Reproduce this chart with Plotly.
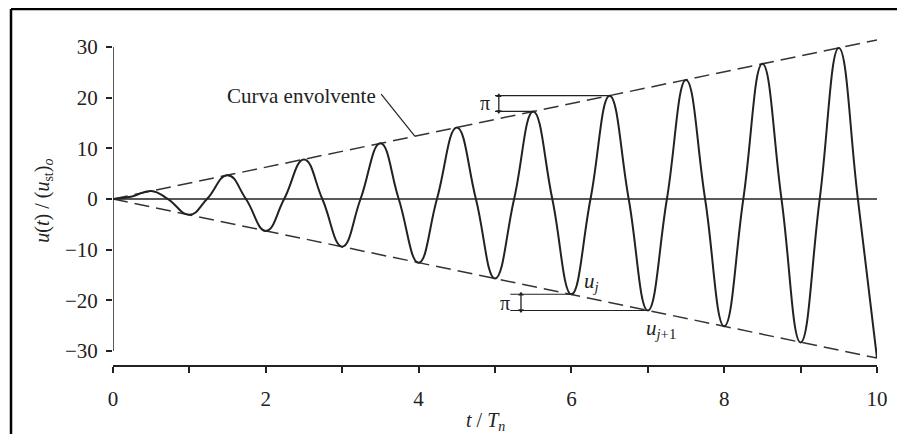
import plotly.graph_objects as go

# ---- data ----
peak_t = [0.5, 1.0, 1.5, 2.0, 2.5, 3.0, 3.5, 4.0, 4.5, 5.0, 5.5, 6.0, 6.5, 7.0, 7.5, 8.0, 8.5, 9.0, 9.5, 10.0]
peak_u = [1.6, -3.1, 4.7, -6.3, 7.8, -9.4, 11.0, -12.6, 14.1, -15.7, 17.3, -18.8, 20.4, -22.0, 23.5, -25.1, 26.7, -28.3, 29.8, -31.4]
zero_t = [0.72, 1.23, 1.74, 2.24, 2.74, 3.24, 3.74, 4.24, 4.75, 5.25, 5.75, 6.25, 6.75, 7.25, 7.75, 8.25, 8.75, 9.25, 9.75]
start_t = [0.0, 0.25]
start_u = [0.0, 0.5]

env_t = [0, 10]
env_upper = [0, 31.4]
env_lower = [0, -31.4]

x_ticks = [0, 2, 4, 6, 8, 10]
x_labels = ["0", "2", "4", "6", "8", "10"]
x_minor = [1, 3, 5, 7, 9]
y_ticks = [-30, -20, -10, 0, 10, 20, 30]
y_labels = ["\u221230", "\u221220", "\u221210", "0", "10", "20", "30"]

# build the curve points (peaks and zero crossings interleaved)
curve_t = list(start_t)
curve_u = list(start_u)
for i, (pt, pu) in enumerate(zip(peak_t, peak_u)):
    curve_t.append(pt)
    curve_u.append(pu)
    if i < len(zero_t):
        curve_t.append(zero_t[i])
        curve_u.append(0.0)

FONT = "Liberation Serif"
INK = "#222222"

fig = go.Figure()

fig.add_trace(go.Scatter(x=env_t, y=env_upper, mode="lines",
                         line=dict(color="#333", width=1.5, dash="15px,7px"),
                         hoverinfo="skip", showlegend=False))
fig.add_trace(go.Scatter(x=env_t, y=env_lower, mode="lines",
                         line=dict(color="#333", width=1.5, dash="15px,7px"),
                         hoverinfo="skip", showlegend=False))
fig.add_trace(go.Scatter(x=[0, 10], y=[0, 0], mode="lines",
                         line=dict(color=INK, width=1.5),
                         hoverinfo="skip", showlegend=False))
fig.add_trace(go.Scatter(x=curve_t, y=curve_u, mode="lines",
                         line=dict(color=INK, width=2, shape="spline", smoothing=1.3),
                         showlegend=False))

shapes = []
# y axis line from -30 to 30
shapes.append(dict(type="line", xref="x", yref="y", x0=0, x1=0, y0=-30, y1=30,
                   line=dict(color=INK, width=1.5)))
# outer frame (top and left)
shapes.append(dict(type="line", xref="paper", yref="paper", x0=-0.1335, x1=1.05,
                   y0=1.0854, y1=1.0854, line=dict(color="black", width=2.5)))
shapes.append(dict(type="line", xref="paper", yref="paper", x0=-0.1335, x1=-0.1335,
                   y0=-0.25, y1=1.0854, line=dict(color="black", width=2.5)))
# envelope leader line
shapes.append(dict(type="line", xref="x", yref="y", x0=3.51, y0=20.7, x1=3.95, y1=12.4,
                   line=dict(color=INK, width=1.2)))
# pi brackets
u_a, u_b = peak_u[10], peak_u[12]
u_c, u_d = peak_u[11], peak_u[13]
for (x0, x1, yy) in [(5.0, peak_t[10], u_a), (5.0, peak_t[12], u_b),
                     (5.2, peak_t[11], u_c), (5.2, peak_t[13], u_d)]:
    shapes.append(dict(type="line", xref="x", yref="y", x0=x0, x1=x1, y0=yy, y1=yy,
                       line=dict(color=INK, width=1.2)))
for (xv, y0, y1) in [(5.05, u_a, u_b), (5.34, u_c, u_d)]:
    shapes.append(dict(type="line", xref="x", yref="y", x0=xv, x1=xv, y0=y0, y1=y1,
                       line=dict(color=INK, width=1.3)))

# small arrowheads at bracket ends
fig.add_trace(go.Scatter(x=[5.05, 5.05, 5.34, 5.34],
                         y=[max(u_a, u_b), min(u_a, u_b), max(u_c, u_d), min(u_c, u_d)],
                         mode="markers",
                         marker=dict(symbol=["triangle-up", "triangle-down", "triangle-up", "triangle-down"],
                                     size=5, color=INK),
                         hoverinfo="skip", showlegend=False))

annotations = [
    dict(x=3.47, y=20.3, xref="x", yref="y", text="Curva envolvente", showarrow=False,
         xanchor="right", yanchor="middle", font=dict(family=FONT, size=21, color=INK)),
    dict(x=4.87, y=18.9, xref="x", yref="y", text="\u03c0", showarrow=False,
         xanchor="center", yanchor="middle", font=dict(family=FONT, size=20, color=INK)),
    dict(x=5.13, y=-20.5, xref="x", yref="y", text="\u03c0", showarrow=False,
         xanchor="center", yanchor="middle", font=dict(family=FONT, size=20, color=INK)),
    dict(x=6.14, y=-16.4, xref="x", yref="y", text="<i>u<sub>j</sub></i>", showarrow=False,
         xanchor="left", yanchor="middle", font=dict(family=FONT, size=21, color=INK)),
    dict(x=6.95, y=-25.6, xref="x", yref="y", text="<i>u<sub>j</sub></i><sub>+1</sub>", showarrow=False,
         xanchor="left", yanchor="middle", font=dict(family=FONT, size=21, color=INK)),
    dict(x=-0.092, y=0.5, xref="paper", yref="paper", textangle=-90,
         text="<i>u</i>(<i>t</i>) / (<i>u</i><sub>st</sub>)<sub><i>o</i></sub>", showarrow=False,
         xanchor="center", yanchor="middle", font=dict(family=FONT, size=20, color=INK)),
    dict(x=0.487, y=-0.172, xref="paper", yref="paper",
         text="<i>t</i> / <i>T<sub>n</sub></i>", showarrow=False,
         xanchor="center", yanchor="middle", font=dict(family=FONT, size=20, color=INK)),
]

# page body has an 8px margin: figure is drawn 8px in from the window corner
fig.update_layout(
    width=897, height=426,
    margin=dict(l=105, r=28, t=29, b=69),
    paper_bgcolor="white", plot_bgcolor="white",
    shapes=shapes, annotations=annotations,
    xaxis=dict(range=[0, 10], tickvals=x_ticks, ticktext=x_labels,
               showline=True, linecolor=INK, linewidth=1.5, ticks="outside",
               ticklen=6, tickwidth=1.5, tickcolor=INK, showgrid=False, zeroline=False,
               minor=dict(tickvals=x_minor, ticks="outside", ticklen=6, tickwidth=1.5,
                          tickcolor=INK, showgrid=False),
               tickfont=dict(family=FONT, size=21, color=INK), ticklabelstandoff=8),
    yaxis=dict(range=[-32.76, 31.98], tickvals=y_ticks, ticktext=y_labels,
               showline=False, ticks="outside", ticklen=6, tickwidth=1.5, tickcolor=INK,
               showgrid=False, zeroline=False,
               tickfont=dict(family=FONT, size=21, color=INK), ticklabelstandoff=4),
)

fig.write_html("out.html")
